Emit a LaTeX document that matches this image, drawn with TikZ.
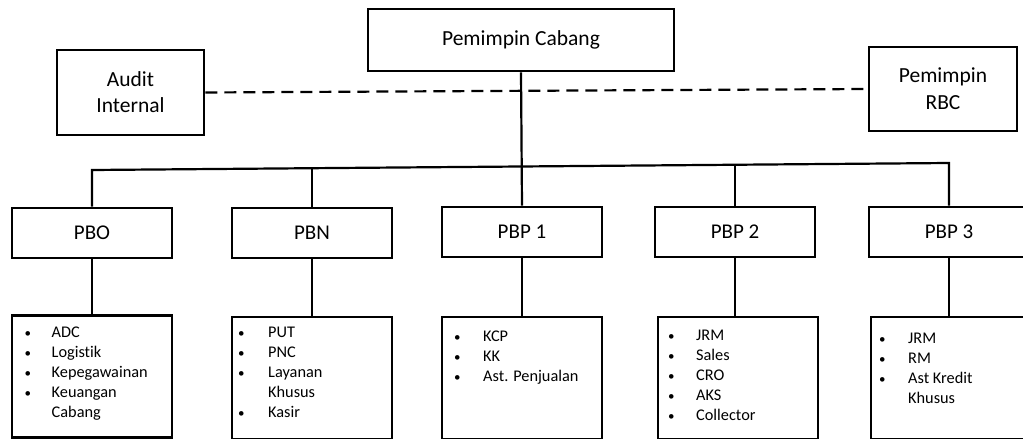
\documentclass[tikz,border=0pt]{standalone}
\usepackage{fontspec}
\setmainfont{Carlito}[Ligatures=NoCommon]
\newcommand{\bul}{{\fontsize{13}{13}\selectfont •}}
\begin{document}
\begin{tikzpicture}[x=1pt,y=-1pt,
  box/.style={draw=black,line width=2.6pt,rectangle,inner sep=0pt,text=black},
  headbox/.style={box,minimum width=160pt,minimum height=50pt,font=\fontsize{21}{26}\selectfont},
  listbox/.style={box,minimum width=160pt,minimum height=122pt},
  listtxt/.style={anchor=base west,inner sep=0pt,text=black,font=\fontsize{16.3}{20}\selectfont},
  conn/.style={line width=2.2pt,draw=black}]
\useasboundingbox (0,0) rectangle (1023,439);
% top level
\node[box,minimum width=306pt,minimum height=62pt,font=\fontsize{21.5}{26}\selectfont] (cab) at (521,40) {Pemimpin Cabang};
\node[box,minimum width=147pt,minimum height=85pt,align=center,font=\fontsize{21.5}{26}\selectfont] (aud) at (130.5,92.5) {Audit\\Internal};
\node[box,minimum width=148pt,minimum height=84pt,align=center,font=\fontsize{21.5}{27}\selectfont] (rbc) at (943,89) {Pemimpin\\RBC};
% second row
\node[headbox] (pbo) at (92,233) {PBO};
\node[headbox] (pbn) at (312,233) {PBN};
\node[headbox] (p1) at (522,232) {PBP 1};
\node[headbox] (p2) at (735,232) {PBP 2};
\node[headbox] (p3) at (949,232) {PBP 3};
% third row
\node[listbox] (lpbo) at (92,376.5) {};
\node[listbox] (lpbn) at (312,378) {};
\node[listbox] (lp1) at (522,378) {};
\node[listbox] (lp2) at (738,378) {};
\node[listbox] (lp3) at (951,378) {};
% lists
\node[listtxt] (tpbo) at (24.5,337) {\begin{tabular}[t]{@{}p{27pt}@{}l@{}}\bul&ADC\\\bul&Logistik\\\bul&Kepegawainan\\\bul&Keuangan\\&Cabang\end{tabular}};
\node[listtxt] (tpbn) at (238,337) {\begin{tabular}[t]{@{}p{30pt}@{}l@{}}\bul&PUT\\\bul&PNC\\\bul&Layanan\\&Khusus\\\bul&Kasir\end{tabular}};
\node[listtxt] (tp1) at (454,341) {\begin{tabular}[t]{@{}p{29pt}@{}l@{}}\bul&KCP\\\bul&KK\\\bul&Ast. Penjualan\end{tabular}};
\node[listtxt] (tp2) at (668,340) {\begin{tabular}[t]{@{}p{28pt}@{}l@{}}\bul&JRM\\\bul&Sales\\\bul&CRO\\\bul&AKS\\\bul&Collector\end{tabular}};
\node[listtxt] (tp3) at (879,343) {\begin{tabular}[t]{@{}p{29pt}@{}l@{}}\bul&JRM\\\bul&RM\\\bul&Ast Kredit\\&Khusus\end{tabular}};
% connectors
\draw[conn,dashed,dash pattern=on 12pt off 7pt] (aud.east) -- (rbc.west);
\draw[conn] (cab.south) -- (p1.north);
\coordinate (busL) at (93,170);
\coordinate (busR) at (949,163);
\draw[conn] (pbo.north) -- (pbo.north |- busL) -- (busR) -- (p3.north);
\draw[conn] (pbn.north) -- (312,168.2);
\draw[conn] (p2.north) -- (735,164.7);
\draw[conn] (pbo.south) -- (lpbo.north);
\draw[conn] (pbn.south) -- (lpbn.north);
\draw[conn] (p1.south) -- (lp1.north);
\draw[conn] (p2.south) -- (p2.south |- lp2.north);
\draw[conn] (p3.south) -- (p3.south |- lp3.north);
\end{tikzpicture}
\end{document}
